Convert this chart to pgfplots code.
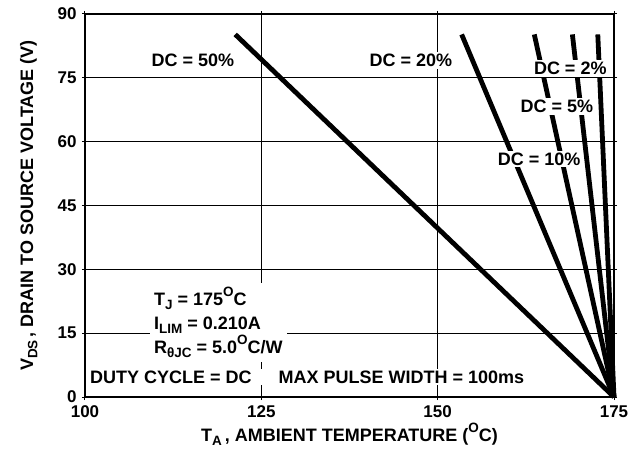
\documentclass[border=0pt]{standalone}
\usepackage{fontspec}
\setmainfont{Liberation Sans}
\usepackage{pgfplots}
\pgfplotsset{compat=1.18}
\newcommand{\lf}{\fontsize{18}{21}\selectfont\bfseries}
\newcommand{\tf}{\fontsize{17}{20}\selectfont\bfseries}
\newcommand{\sub}[1]{\raisebox{-0.24em}{\fontsize{13.5}{13.5}\selectfont\bfseries #1}}
\newcommand{\sups}[1]{\raisebox{0.5em}{\fontsize{13.5}{13.5}\selectfont\bfseries #1}}
\begin{document}
\begin{tikzpicture}[font=\lf]
\begin{axis}[
  scale only axis, width=529pt, height=383pt,
  xmin=100, xmax=175, ymin=0, ymax=90,
  xtick={100,125,150,175}, ytick={0,15,30,45,60,75,90},
  /pgf/number format/assume math mode=true,
  tick label style={font=\tf},
  x tick label style={yshift=-2pt},
  y tick label style={xshift=-2pt},
  label style={font=\lf},
  grid=major,
  major grid style={black, line width=1.1pt},
  axis line style={black, line width=1.6pt},
  tick style={black, line width=1pt},
  tick align=outside, major tick length=3pt,
  clip=false,
  xlabel={T\sub{A}\,, AMBIENT TEMPERATURE (\sups{O}C)},
  ylabel={V\sub{DS}\,, DRAIN TO SOURCE VOLTAGE (V)},
  x label style={at={(axis description cs:0.5,-0.1149)}, anchor=base},
  y label style={at={(axis description cs:-0.0983,0.5)}, anchor=base},
]
\addplot[black, line width=4.8pt] coordinates {(121.3,85.2) (175,0)};
\addplot[black, line width=4.8pt] coordinates {(153.4,85.2) (175,0)};
\addplot[black, line width=4.8pt] coordinates {(163.7,85.2) (175,0)};
\addplot[black, line width=4.8pt] coordinates {(169.1,85.2) (175,0)};
\addplot[black, line width=4.8pt] coordinates {(172.7,85.2) (175,0)};
\node[fill=white, inner sep=2pt] at (axis cs:115.3,79.1) {DC = 50\%};
\node[fill=white, inner sep=2pt] at (axis cs:146.2,79.1) {DC = 20\%};
\node[fill=white, inner sep=2pt] at (axis cs:168.8,77.2) {DC = 2\%};
\node[fill=white, inner sep=2pt] at (axis cs:166.9,68.3) {DC = 5\%};
\node[fill=white, inner sep=2pt] at (axis cs:164.4,55.9) {DC = 10\%};
\node[fill=white, inner sep=4pt, anchor=west, align=left, font=\fontsize{18}{24}\selectfont\bfseries] at (axis cs:109.2,17.6)
  {T\sub{J} = 175\sups{O}C\\ I\sub{LIM} = 0.210A\\ R\sub{θJC} = 5.0\sups{O}C/W};
\node[fill=white, inner sep=2pt, anchor=west] at (axis cs:100.42,4.7)
  {DUTY CYCLE = DC\hspace{27pt}MAX PULSE WIDTH = 100ms};
\end{axis}
\pgfresetboundingbox
\path ([shift={(-85pt,-52pt)}]current axis.south west) rectangle ([shift={(23pt,14pt)}]current axis.north east);
\end{tikzpicture}
\end{document}
